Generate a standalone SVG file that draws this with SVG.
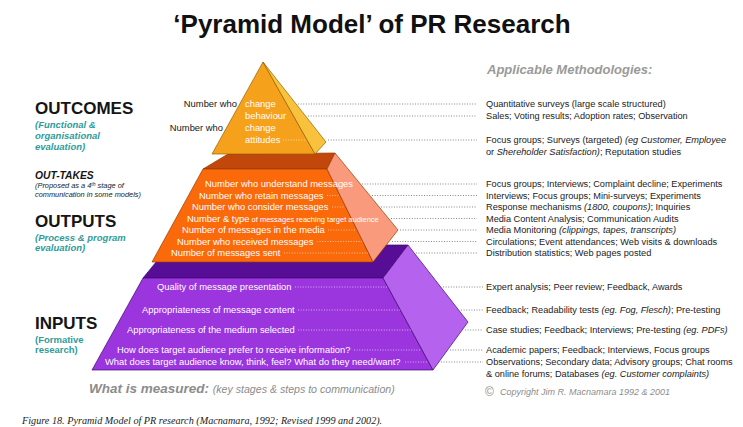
<svg xmlns="http://www.w3.org/2000/svg" width="743" height="427" viewBox="0 0 743 427">
<style>
text{font-family:"Liberation Sans",Arial,sans-serif}
.bg{fill:#fff}
.title{font-size:26px;font-weight:bold;fill:#111}
.head{font-size:13px;font-weight:bold;font-style:italic;fill:#9a9a9a}
.stage{font-size:17px;font-weight:bold;fill:#151515}
.sub{font-size:9.5px;font-weight:bold;font-style:italic;fill:#2e9c9c}
.subn{font-size:9.5px;font-weight:bold;fill:#2e9c9c}
.ot{font-size:10.3px;font-weight:bold;font-style:italic;fill:#151515}
.tiny{font-size:7.4px;font-style:italic;fill:#222}
.w{font-size:9.4px;fill:#fff}
.dk{font-size:9.4px;fill:#151515}
.m{font-size:9.2px;fill:#222}
.i{font-style:italic}
.meas{font-size:13.5px;font-weight:bold;font-style:italic;fill:#8c8c8c}
.meas2{font-size:10.6px;font-style:italic;font-weight:normal;fill:#8c8c8c}
.copy{font-size:9px;font-style:italic;fill:#8c8c8c}
.cap{font-family:"Liberation Serif","Times New Roman",serif;font-size:10.2px;font-style:italic;fill:#222}
.pt{stroke:#3d0870;stroke-width:0.7;stroke-linejoin:round}
.po{stroke:#9a3a00;stroke-width:0.7;stroke-linejoin:round}
.py{stroke:#946000;stroke-width:0.7;stroke-linejoin:round}
.dot{stroke:#6a6a6a;stroke-width:0.8;stroke-dasharray:1 1.6;fill:none}
.din{stroke:#ffffff;stroke-opacity:0.75;stroke-width:0.8;stroke-dasharray:1 1.6;fill:none}
</style>
<rect class="bg" x="0" y="0" width="743" height="427"/>

<g id="title">
<text class="title" x="372" y="33" text-anchor="middle">‘Pyramid Model’ of PR Research</text>
</g>
<g id="methodologies-heading">
<text class="head" x="487" y="74">Applicable Methodologies:</text>
</g>

<g id="stage-labels">
<g id="label-outcomes">
<text class="stage" x="35" y="114">OUTCOMES</text>
<text class="sub" x="35" y="127.5">(Functional &amp;</text>
<text class="sub" x="35" y="138.5">organisational</text>
<text class="sub" x="35" y="149.5">evaluation)</text>
</g>
<g id="label-outtakes">
<text class="ot" x="35" y="179">OUT-TAKES</text>
<text class="tiny" x="35" y="188">(Proposed as a 4<tspan font-size="5" dy="-2.5">th</tspan><tspan dy="2.5"> stage of</tspan></text>
<text class="tiny" x="35" y="197">communication in some models)</text>
</g>
<g id="label-outputs">
<text class="stage" x="35" y="227">OUTPUTS</text>
<text class="sub" x="35" y="240.5">(Process &amp; program</text>
<text class="sub" x="35" y="251">evaluation)</text>
</g>
<g id="label-inputs">
<text class="stage" x="35" y="329">INPUTS</text>
<text class="subn" x="35" y="342.5">(Formative</text>
<text class="subn" x="35" y="353">research)</text>
</g>
</g>

<g id="tier-inputs">
<polygon class="pt" points="143,278 170,245 408,245 383,278" fill="#570d95"/>
<polygon class="pt" points="143,278 383,278 433,370 92,370" fill="#9b35dd"/>
<polygon class="pt" points="383,278 408,245 468,322 433,370" fill="#b562ee"/>
<text class="w" x="157" y="290.3">Quality of message presentation</text>
<text class="w" x="142" y="313.3">Appropriateness of message content</text>
<text class="w" x="127" y="333.3">Appropriateness of the medium selected</text>
<text class="w" x="117" y="353.3">How does target audience prefer to receive information?</text>
<text class="w" x="105" y="365.3">What does target audience know, think, feel? What do they need/want?</text>
</g>

<g id="tier-outputs">
<polygon class="po" points="203,169 228,154 335,153 327,169" fill="#c2470a"/>
<polygon class="po" points="203,169 327,169 373,262 152,262" fill="#fa6a0a"/>
<polygon class="po" points="327,169 335,153 398,230 373,262" fill="#f99a7c"/>
<text class="w" x="205" y="187.3">Number who understand messages</text>
<text class="w" x="199" y="198.8">Number who retain messages</text>
<text class="w" x="192" y="210.3">Number who consider messages</text>
<text class="w" x="187" y="221.8">Number &amp; type<tspan font-size="7.5"> of messages reaching target audience</tspan></text>
<text class="w" x="182" y="233.3">Number of messages in the media</text>
<text class="w" x="177" y="244.8">Number who received messages</text>
<text class="w" x="171" y="256.3">Number of messages sent</text>
</g>

<g id="tier-outcomes">
<polygon class="py" points="263,62 315,154 212,154" fill="#f5a11c"/>
<polygon class="py" points="263,62 326,142 315,154" fill="#f8c23c"/>
<text class="dk" x="237" y="107" text-anchor="end">Number who</text>
<text class="dk" x="223" y="131" text-anchor="end">Number who</text>
<text class="w" x="245" y="107">change</text>
<text class="w" x="245" y="119">behaviour</text>
<text class="w" x="245" y="131">change</text>
<text class="w" x="245" y="143">attitudes</text>
</g>

<g id="connectors">
<line class="dot" x1="298" y1="104" x2="477" y2="104"/>
<line class="dot" x1="308" y1="116" x2="477" y2="116"/>
<line class="din" x1="283" y1="140" x2="306" y2="140"/>
<line class="dot" x1="328" y1="140" x2="477" y2="140"/>

<line class="dot" x1="362" y1="184" x2="477" y2="184"/>
<line class="din" x1="327" y1="195.5" x2="339" y2="195.5"/>
<line class="dot" x1="372" y1="195.5" x2="477" y2="195.5"/>
<line class="din" x1="332" y1="207" x2="345" y2="207"/>
<line class="dot" x1="381" y1="207" x2="477" y2="207"/>
<line class="dot" x1="391" y1="218.5" x2="477" y2="218.5"/>
<line class="din" x1="328" y1="230" x2="356" y2="230"/>
<line class="dot" x1="400" y1="230" x2="477" y2="230"/>
<line class="din" x1="317" y1="241.5" x2="362" y2="241.5"/>
<line class="dot" x1="392" y1="241.5" x2="477" y2="241.5"/>
<line class="din" x1="284" y1="253" x2="368" y2="253"/>
<line class="dot" x1="416" y1="253" x2="477" y2="253"/>

<line class="din" x1="295" y1="287" x2="387" y2="287"/>
<line class="dot" x1="443" y1="287" x2="483" y2="287"/>
<line class="din" x1="298" y1="310" x2="400" y2="310"/>
<line class="dot" x1="461" y1="310" x2="483" y2="310"/>
<line class="din" x1="298" y1="330" x2="411" y2="330"/>
<line class="dot" x1="465" y1="330" x2="483" y2="330"/>
<line class="din" x1="354" y1="350" x2="421" y2="350"/>
<line class="dot" x1="450" y1="350" x2="483" y2="350"/>
<line class="din" x1="405" y1="362" x2="428" y2="362"/>
<line class="dot" x1="441" y1="362" x2="483" y2="362"/>
</g>

<g id="methodologies">
<text class="m" x="486" y="107.2">Quantitative surveys (large scale structured)</text>
<text class="m" x="486" y="119.2">Sales; Voting results; Adoption rates; Observation</text>
<text class="m" x="486" y="143.2">Focus groups; Surveys (targeted) <tspan class="i">(eg Customer, Employee</tspan></text>
<text class="m" x="486" y="155.2">or <tspan class="i">Shereholder Satisfaction)</tspan>; Reputation studies</text>
<text class="m" x="486" y="187.2">Focus groups; Interviews; Complaint decline; Experiments</text>
<text class="m" x="486" y="198.7">Interviews; Focus groups; Mini-surveys; Experiments</text>
<text class="m" x="486" y="210.2">Response mechanisms <tspan class="i">(1800, coupons)</tspan>; Inquiries</text>
<text class="m" x="486" y="221.7">Media Content Analysis; Communication Audits</text>
<text class="m" x="486" y="233.2">Media Monitoring <tspan class="i">(clippings, tapes, transcripts)</tspan></text>
<text class="m" x="486" y="244.7">Circulations; Event attendances; Web visits &amp; downloads</text>
<text class="m" x="486" y="256.2">Distribution statistics; Web pages posted</text>
<text class="m" x="486" y="290.2">Expert analysis; Peer review; Feedback, Awards</text>
<text class="m" x="486" y="313.2">Feedback; Readability tests <tspan class="i">(eg. Fog, Flesch)</tspan>; Pre-testing</text>
<text class="m" x="486" y="333.2">Case studies; Feedback; Interviews; Pre-testing <tspan class="i">(eg. PDFs)</tspan></text>
<text class="m" x="486" y="353.2">Academic papers; Feedback; Interviews, Focus groups</text>
<text class="m" x="486" y="365.2">Observations; Secondary data; Advisory groups; Chat rooms</text>
<text class="m" x="486" y="377.2">&amp; online forums; Databases <tspan class="i">(eg. Customer complaints)</tspan></text>
</g>

<g id="footer">
<text class="meas" x="89" y="393">What is measured: <tspan class="meas2">(key stages &amp; steps to communication)</tspan></text>
<text x="485" y="396" font-size="12" fill="#8c8c8c">©</text>
<text class="copy" x="500" y="395">Copyright Jim R. Macnamara 1992 &amp; 2001</text>
<text class="cap" x="22" y="424">Figure 18. Pyramid Model of PR research (Macnamara, 1992; Revised 1999 and 2002).</text>
</g>
</svg>
